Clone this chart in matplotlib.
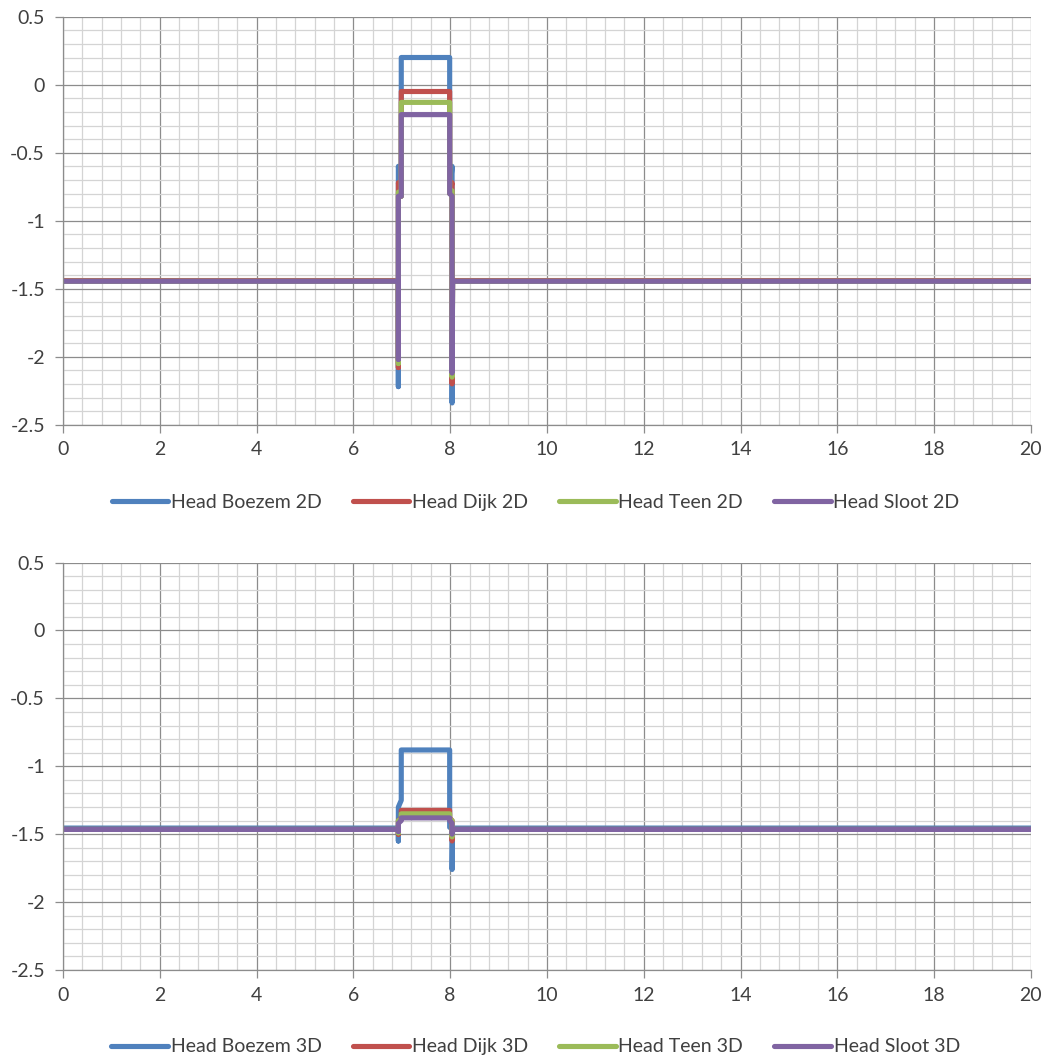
import matplotlib.pyplot as plt
from matplotlib.ticker import MultipleLocator
import numpy as np

plt.rcParams['font.family'] = ['Lato', 'DejaVu Sans']

# sample positions along the profile (same for every series)
x_2d = [0, 6.93, 6.93, 6.93, 6.99, 6.99, 7.99, 7.99, 8.04, 8.04, 8.05, 20]
x_3d = [0, 6.93, 6.93, 6.93, 6.99, 6.99, 7.99, 7.99, 8.04, 8.04, 8.05, 20]

# heads, 2D model
boezem_2d = [-1.445, -1.445, -2.22, -0.60, -0.82, 0.20, 0.20, -0.80, -0.60, -2.34, -1.445, -1.445]
dijk_2d = [-1.44, -1.44, -2.08, -0.72, -0.82, -0.05, -0.05, -0.80, -0.72, -2.20, -1.44, -1.44]
teen_2d = [-1.445, -1.445, -2.05, -0.79, -0.82, -0.13, -0.13, -0.80, -0.78, -2.15, -1.445, -1.445]
sloot_2d = [-1.445, -1.445, -2.02, -0.82, -0.82, -0.22, -0.22, -0.80, -0.82, -2.12, -1.445, -1.445]

# heads, 3D model
boezem_3d = [-1.455, -1.455, -1.55, -1.30, -1.25, -0.88, -0.88, -1.45, -1.45, -1.76, -1.455, -1.455]
dijk_3d = [-1.465, -1.465, -1.50, -1.40, -1.38, -1.325, -1.325, -1.38, -1.40, -1.55, -1.465, -1.465]
teen_3d = [-1.465, -1.465, -1.49, -1.40, -1.39, -1.35, -1.35, -1.39, -1.40, -1.52, -1.465, -1.465]
sloot_3d = [-1.465, -1.465, -1.48, -1.42, -1.40, -1.38, -1.38, -1.40, -1.42, -1.50, -1.465, -1.465]

names = ['Head Boezem', 'Head Dijk', 'Head Teen', 'Head Sloot']
colors = ['#4F81BD', '#C0504D', '#9BBB59', '#8064A2']


def make_panel(fig, rect, x, series, suffix, legend_y):
    ax = fig.add_axes(rect)
    for name, col, y in zip(names, colors, series):
        ax.plot(x, y, color=col, lw=3.7, solid_capstyle='round',
                solid_joinstyle='round', label=name + ' ' + suffix)

    ax.set_xlim(0, 20)
    ax.set_ylim(-2.5, 0.5)
    ax.xaxis.set_major_locator(MultipleLocator(2))
    ax.xaxis.set_minor_locator(MultipleLocator(0.4))
    ax.yaxis.set_major_locator(MultipleLocator(0.5))
    ax.yaxis.set_minor_locator(MultipleLocator(0.1))
    ax.set_yticks(np.arange(-2.5, 0.51, 0.5))
    ax.set_yticklabels(['-2.5', '-2', '-1.5', '-1', '-0.5', '0', '0.5'])

    ax.grid(which='minor', color='#d4d4d4', lw=0.9)
    ax.grid(which='major', color='#8c8c8c', lw=0.9)
    ax.set_axisbelow(True)

    for s in ['top', 'right']:
        ax.spines[s].set_visible(False)
    for s in ['left', 'bottom']:
        ax.spines[s].set_color('#8c8c8c')
        ax.spines[s].set_linewidth(0.9)

    ax.tick_params(which='major', length=6, width=0.9, color='#8c8c8c',
                   labelsize=14, labelcolor='#404040')
    ax.tick_params(axis='x', which='major', pad=6)
    ax.tick_params(axis='y', which='major', pad=7)
    ax.tick_params(which='minor', length=0)

    fig.legend(*ax.get_legend_handles_labels(), loc='center',
               bbox_to_anchor=(0.513, legend_y), ncol=4, frameon=False,
               fontsize=14, handlelength=2.9, handletextpad=0.15,
               columnspacing=1.6, labelcolor='#404040')
    return ax


fig = plt.figure(figsize=(10.44, 10.57), dpi=100)

make_panel(fig, [0.0603, 0.5982, 0.9272, 0.386], x_2d,
           [boezem_2d, dijk_2d, teen_2d, sloot_2d], '2D', 0.525)
make_panel(fig, [0.0603, 0.0823, 0.9272, 0.3855], x_3d,
           [boezem_3d, dijk_3d, teen_3d, sloot_3d], '3D', 0.0095)

fig.savefig('out.png', dpi=100)
